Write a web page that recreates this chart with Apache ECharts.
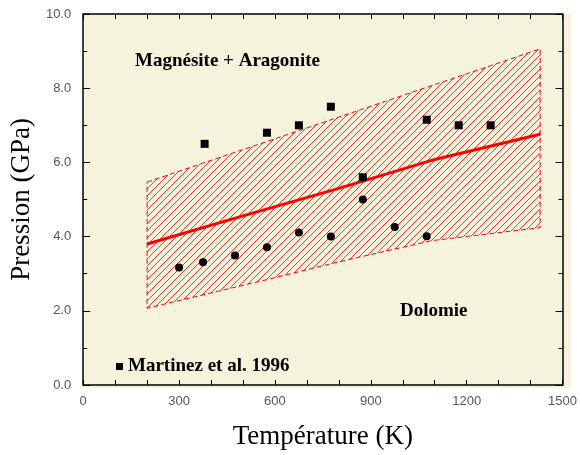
<!DOCTYPE html>
<html>
<head>
<meta charset="utf-8">
<script src="https://cdn.jsdelivr.net/npm/echarts@6/dist/echarts.min.js"></script>
<style>
  html, body { margin: 0; padding: 0; background: #ffffff; }
  #wrap { position: relative; width: 580px; height: 455px; }
  /* plot-area fill sits behind the transparent chart so the inward ticks stay visible */
  #plotbg { position: absolute; left: 83px; top: 14px; width: 488px; height: 374px; background: #f5f3dc; }
  #chart { position: absolute; left: 0; top: 0; width: 580px; height: 455px; }
</style>
</head>
<body>
<div id="wrap">
  <div id="plotbg"></div>
  <div id="chart"></div>
</div>
<script>
// Martinez et al. 1996 (squares = magnésite + aragonite, circles = dolomie)
const squareT = [380, 575, 675, 775, 875, 1075, 1175, 1275];
const squareP = [6.5, 6.8, 7.0, 7.5, 5.6, 7.15, 7.0, 7.0];
const circleT = [300, 375, 475, 575, 675, 775, 875, 975, 1075];
const circleP = [3.17, 3.31, 3.49, 3.71, 4.11, 4.0, 5.0, 4.26, 4.01];

// fitted boundary and its uncertainty band
const fitT = [200, 500, 800, 1100, 1430];
const fitP = [3.8, 4.56, 5.3, 6.08, 6.76];
const upperT = [200, 1430];
const upperP = [5.47, 9.06];
const lowerT = [200, 575, 800, 1090, 1430];
const lowerP = [2.07, 2.84, 3.32, 3.89, 4.24];

const xTicks = [0, 300, 600, 900, 1200, 1500];
const yTicks = [0, 2, 4, 6, 8, 10];

const RED = '#ff0000';
const HATCH_STEP = 7;
const serif = 'Liberation Serif';
const sans = 'Liberation Sans';

// diagonal "/" hatch lines clipped to the band polygon (pixel space)
function hatchLines(pts, step) {
  const sums = pts.map(p => p[0] + p[1]);
  const lo = Math.ceil(Math.min(...sums) / step) * step;
  const hi = Math.max(...sums);
  const out = [];
  for (let c = lo; c <= hi; c += step) {
    const hits = [];
    for (let i = 0; i < pts.length; i++) {
      const a = pts[i], b = pts[(i + 1) % pts.length];
      const fa = a[0] + a[1] - c, fb = b[0] + b[1] - c;
      if ((fa < 0) !== (fb < 0)) {
        const t = fa / (fa - fb);
        hits.push([a[0] + t * (b[0] - a[0]), a[1] + t * (b[1] - a[1])]);
      }
    }
    hits.sort((p, q) => p[0] - q[0]);
    for (let k = 0; k + 1 < hits.length; k += 2) {
      out.push({
        type: 'line',
        shape: { x1: hits[k][0], y1: hits[k][1], x2: hits[k + 1][0], y2: hits[k + 1][1] },
        style: { stroke: '#ff3030', lineWidth: 1 }
      });
    }
  }
  return out;
}

const chart = echarts.init(document.getElementById('chart'), null, { renderer: 'canvas' });

const tickStyle = { color: '#000', width: 1 };

const xAxisBase = {
  type: 'value',
  min: xTicks[0],
  max: xTicks[xTicks.length - 1],
  interval: xTicks[1] - xTicks[0],
  z: 10,
  axisLine: { show: true, onZero: false, lineStyle: { color: '#000', width: 1.5 } },
  axisTick: { show: true, inside: true, length: 5, lineStyle: tickStyle },
  minorTick: { show: true, splitNumber: 3, length: 5, lineStyle: tickStyle },
  splitLine: { show: false }
};
const yAxisBase = {
  type: 'value',
  min: yTicks[0],
  max: yTicks[yTicks.length - 1],
  interval: yTicks[1] - yTicks[0],
  z: 10,
  axisLine: { show: true, onZero: false, lineStyle: { color: '#000', width: 1.5 } },
  axisTick: { show: true, inside: true, length: 7, lineStyle: tickStyle },
  minorTick: { show: true, splitNumber: 2, length: 4, lineStyle: tickStyle },
  splitLine: { show: false }
};

chart.setOption({
  animation: false,
  backgroundColor: 'transparent',
  grid: { left: 83, top: 14, right: 9, bottom: 67, show: false },
  legend: {
    data: ['Martinez et al. 1996'],
    left: 111, top: 352,
    icon: 'rect', itemWidth: 7, itemHeight: 7, itemGap: 13,
    textStyle: { fontFamily: serif, fontWeight: 'bold', fontSize: 19, color: '#000' }
  },
  xAxis: [
    Object.assign({}, xAxisBase, {
      position: 'bottom',
      name: 'Température (K)', nameLocation: 'middle', nameGap: 38,
      nameTextStyle: { fontFamily: serif, fontSize: 27, color: '#000' },
      axisLabel: { margin: 10, fontFamily: sans, fontSize: 13, color: '#555', formatter: v => String(v) }
    }),
    Object.assign({}, xAxisBase, { position: 'top', axisLabel: { show: false } })
  ],
  yAxis: [
    Object.assign({}, yAxisBase, {
      position: 'left',
      name: 'Pression (GPa)', nameLocation: 'middle', nameGap: 35,
      nameTextStyle: { fontFamily: serif, fontSize: 27, color: '#000' },
      axisLabel: { margin: 12, fontFamily: sans, fontSize: 13, color: '#555', formatter: v => v.toFixed(1) }
    }),
    Object.assign({}, yAxisBase, { position: 'right', axisLabel: { show: false } })
  ],
  graphic: [
    { type: 'text', left: 135, top: 52, z: 100,
      style: { text: 'Magnésite + Aragonite', font: 'bold 19px "Liberation Serif"', fill: '#000' } },
    { type: 'text', left: 400, top: 302, z: 100,
      style: { text: 'Dolomie', font: 'bold 19px "Liberation Serif"', fill: '#000' } }
  ],
  series: [
    {
      name: 'band', type: 'custom', xAxisIndex: 0, yAxisIndex: 0,
      data: [0], silent: true, z: 1,
      renderItem: (params, api) => {
        const pts = [];
        upperT.forEach((t, i) => pts.push(api.coord([t, upperP[i]])));
        for (let i = lowerT.length - 1; i >= 0; i--) pts.push(api.coord([lowerT[i], lowerP[i]]));
        const children = hatchLines(pts, HATCH_STEP);
        children.push({
          type: 'polygon', shape: { points: pts },
          style: { fill: 'none', stroke: RED, lineWidth: 1, lineDash: [5, 3] }
        });
        return { type: 'group', children: children };
      }
    },
    {
      name: 'fit', type: 'line', xAxisIndex: 0, yAxisIndex: 0,
      data: fitT.map((t, i) => [t, fitP[i]]),
      showSymbol: false, lineStyle: { color: RED, width: 3 }, z: 3
    },
    {
      name: 'Martinez et al. 1996', type: 'scatter', xAxisIndex: 0, yAxisIndex: 0,
      data: squareT.map((t, i) => [t, squareP[i]]),
      symbol: 'rect', symbolSize: 8, itemStyle: { color: '#000', opacity: 1 }, z: 4
    },
    {
      name: 'dolomie', type: 'scatter', xAxisIndex: 0, yAxisIndex: 0,
      data: circleT.map((t, i) => [t, circleP[i]]),
      symbol: 'circle', symbolSize: 8, itemStyle: { color: '#000', opacity: 1 }, z: 4
    }
  ]
});
</script>
</body>
</html>
